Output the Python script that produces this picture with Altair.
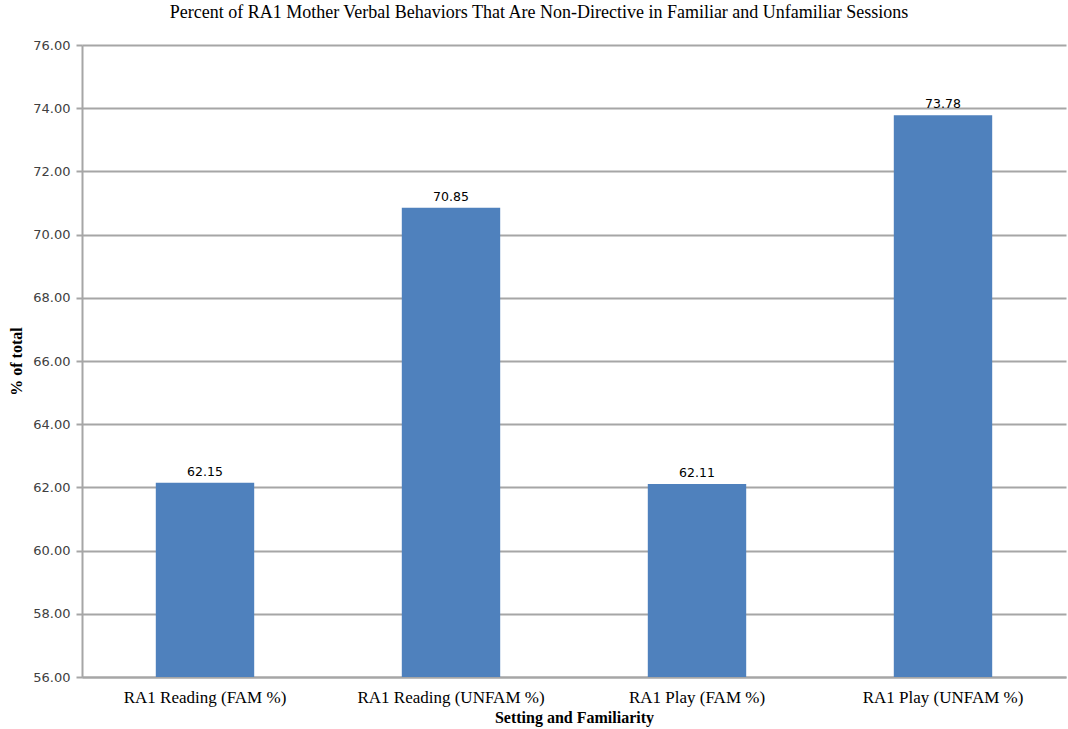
import altair as alt
import pandas as pd

categories = ["RA1 Reading (FAM %)", "RA1 Reading (UNFAM %)", "RA1 Play (FAM %)", "RA1 Play (UNFAM %)"]
values = [62.15, 70.85, 62.11, 73.78]
y_ticks = [56, 58, 60, 62, 64, 66, 68, 70, 72, 74, 76]

df = pd.DataFrame({"cat": categories, "val": values,
                   "label": [f"{v:.2f}" for v in values]})

x = alt.X("cat:N", sort=categories, title="Setting and Familiarity",
          scale=alt.Scale(paddingInner=0.6, paddingOuter=0.3),
          axis=alt.Axis(labelAngle=0, labelFont="Liberation Serif", labelFontSize=17, labelLimit=400,
                        labelColor="#000000", titleFont="Liberation Serif", titleFontSize=16,
                        titleFontWeight="bold", titleColor="#000000", ticks=False,
                        domainColor="#a6a6a6", domainWidth=2, labelPadding=12, titlePadding=4))
y = alt.Y("val:Q", title="% of total",
          scale=alt.Scale(domain=[56, 76], zero=False, clamp=True),
          axis=alt.Axis(values=y_ticks, format=".2f", labelFont="DejaVu Sans", labelFontSize=13,
                        labelColor="#404040", titleFont="Liberation Serif", titleFontSize=16,
                        titleFontWeight="bold", titleColor="#000000", tickColor="#a6a6a6",
                        tickSize=6, tickWidth=2, domainColor="#a6a6a6", domainWidth=2,
                        gridColor="#a6a6a6", gridWidth=2, labelPadding=6, titlePadding=8))

bars = alt.Chart(df).mark_bar(color="#4F81BD").encode(x=x, y=y, y2=alt.datum(56))
text = alt.Chart(df).mark_text(dy=-11, font="DejaVu Sans", fontSize=12.5, color="#000000").encode(
    x=alt.X("cat:N", sort=categories), y="val:Q", text="label:N")

chart = (bars + text).properties(
    width=984, height=632,
    padding={"left": 82, "top": 45, "right": 2, "bottom": 52},
    autosize=alt.AutoSizeParams(type="none"),
    title=alt.TitleParams("Percent of RA1 Mother Verbal Behaviors That Are Non-Directive  in Familiar and Unfamiliar  Sessions",
                          font="Liberation Serif", fontSize=18, fontWeight="normal", color="#000000",
                          anchor="middle", offset=17, dx=-35)
).configure_view(stroke=None).configure_axis(grid=False).configure_axisY(grid=True)

chart.save("out.html", embed_options={"renderer": "svg", "actions": False})
